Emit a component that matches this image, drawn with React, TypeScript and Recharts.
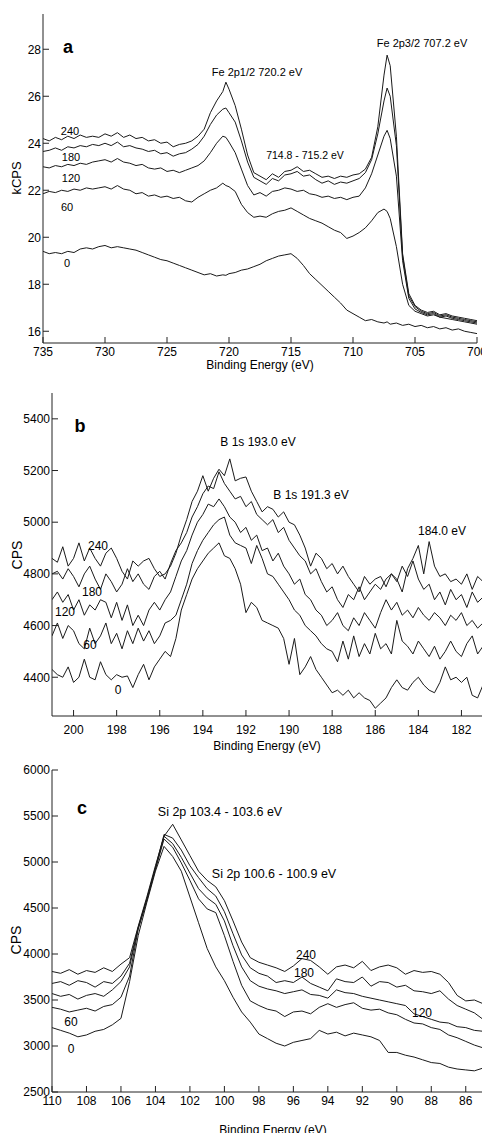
import React from 'react';
import { LineChart, Line, XAxis, YAxis } from 'recharts';

const FONT = "'Liberation Sans', Arial, Helvetica, sans-serif";
const INK = '#1a1a1a';

// ---------------- Panel a : Fe 2p ----------------
const feEnergy = [
  735, 734.5, 734, 733.5, 733, 732.5, 732, 731.5, 731, 730.5,
  730, 729.5, 729, 728.5, 728, 727.5, 727, 726.5, 726, 725.5,
  725, 724.5, 724, 723.5, 723, 722.5, 722, 721.5, 721, 720.5,
  720.25, 720, 719.5, 719, 718.5, 718, 717.5, 717, 716.5, 716,
  715.5, 715, 714.5, 714, 713.5, 713, 712.5, 712, 711.5, 711,
  710.5, 710, 709.5, 709, 708.5, 708, 707.5, 707.25, 707, 706.5,
  706, 705.5, 705, 704.5, 704, 703.5, 703, 702.5, 702, 701.5,
  701, 700.5, 700,
];
const fe240 = [
  24.2, 24.1, 24.25, 24.15, 24.3, 24.2, 24.35, 24.25, 24.3, 24.25,
  24.4, 24.3, 24.45, 24.25, 24.35, 24.2, 24.25, 24.1, 24.15, 24.0,
  24.05, 23.85, 23.95, 24.0, 24.1, 24.3, 24.6, 25.3, 25.8, 26.2,
  26.6, 26.3, 25.6, 24.6, 23.5, 22.75, 22.6, 22.45, 22.7, 22.55,
  22.8, 22.85, 23.0, 22.8, 22.85, 22.7, 22.55, 22.6, 22.5, 22.6,
  22.55, 22.65, 22.7, 22.9, 23.4, 24.7, 26.9, 27.75, 27.3, 24.3,
  19.3, 17.6, 17.1, 16.9, 16.8, 16.85, 16.7, 16.75, 16.65, 16.6,
  16.55, 16.5, 16.45,
];
const fe180 = [
  23.65, 23.7, 23.8, 23.7, 23.85, 23.8, 23.9, 23.85, 23.95, 23.9,
  24.0, 23.9, 24.05, 23.85, 23.9, 23.8, 23.75, 23.65, 23.7, 23.55,
  23.6, 23.45, 23.55, 23.6, 23.75, 23.95, 24.3, 24.8, 25.2, 25.45,
  25.5, 25.3, 24.9, 24.1, 23.2, 22.55, 22.4, 22.25, 22.5, 22.4,
  22.65, 22.7, 22.8, 22.6, 22.65, 22.45, 22.3, 22.4, 22.25, 22.35,
  22.3, 22.4, 22.5, 22.75, 23.3, 24.4, 25.8, 26.35, 26.0, 23.9,
  19.2, 17.5, 17.05, 16.85, 16.75, 16.8, 16.65, 16.7, 16.6, 16.55,
  16.5, 16.45, 16.4,
];
const fe120 = [
  23.0, 22.95, 23.05, 23.0, 23.1, 23.05, 23.15, 23.1, 23.2, 23.25,
  23.3, 23.2, 23.35, 23.2, 23.15, 23.05, 23.1, 22.95, 22.9, 22.95,
  22.8, 22.85, 22.75, 22.85, 22.95, 23.05, 23.25, 23.6, 24.0, 24.3,
  24.25, 24.05, 23.6, 22.9, 22.2, 21.8, 21.9, 21.75, 21.95, 22.0,
  22.1, 22.05, 21.95, 22.0, 21.85, 21.8, 21.7, 21.75, 21.65, 21.7,
  21.6, 21.7, 21.75, 22.1, 22.7, 23.5, 24.3, 24.55, 24.2, 22.6,
  19.0, 17.4, 16.95, 16.8, 16.7, 16.75, 16.6, 16.65, 16.55, 16.5,
  16.45, 16.4, 16.35,
];
const fe60 = [
  21.85, 21.95, 21.9, 22.0, 21.95, 22.05, 22.0, 22.1, 22.05, 22.1,
  22.15, 22.05, 22.2, 22.05, 22.0, 21.85, 21.9, 21.75, 21.8, 21.7,
  21.75, 21.65, 21.7, 21.55, 21.5, 21.7, 21.85, 22.0, 22.1, 22.3,
  22.2, 22.15, 21.95, 21.4, 21.05, 20.85, 20.9, 20.85, 21.0, 21.1,
  21.15, 21.25, 21.1, 20.95, 20.8, 20.7, 20.6, 20.45, 20.3, 20.2,
  19.95, 20.05, 20.2, 20.4, 20.7, 21.05, 21.2, 21.1, 20.8, 19.6,
  18.0, 17.1, 16.85, 16.75, 16.65, 16.7, 16.6, 16.55, 16.5, 16.45,
  16.4, 16.35, 16.3,
];
const fe0 = [
  19.4, 19.3, 19.35, 19.3, 19.4, 19.35, 19.5, 19.55, 19.5, 19.6,
  19.65, 19.55, 19.6, 19.55, 19.5, 19.45, 19.35, 19.25, 19.15, 19.05,
  19.0, 18.9, 18.8, 18.7, 18.6, 18.5, 18.4, 18.45, 18.35, 18.4,
  18.38, 18.45, 18.5, 18.6, 18.65, 18.75, 18.85, 19.0, 19.1, 19.2,
  19.25, 19.3, 19.1, 18.8, 18.45, 18.2, 17.95, 17.7, 17.45, 17.2,
  16.9, 16.75, 16.6, 16.45, 16.5, 16.4, 16.35, 16.4, 16.3, 16.35,
  16.25, 16.3, 16.2, 16.25, 16.15, 16.2, 16.1, 16.15, 16.05, 16.1,
  16.0, 15.95, 15.9,
];
const feTicksX = [735, 730, 725, 720, 715, 710, 705, 700];
const feTicksY = [16, 18, 20, 22, 24, 26, 28];

// ---------------- Panel b : B 1s ----------------
const bEnergy = [
  201, 200.75, 200.5, 200.25, 200, 199.75, 199.5, 199.25,
  199, 198.75, 198.5, 198.25, 198, 197.75, 197.5, 197.25,
  197, 196.75, 196.5, 196.25, 196, 195.75, 195.5, 195.25,
  195, 194.75, 194.5, 194.25, 194, 193.75, 193.5, 193.25,
  193, 192.75, 192.5, 192.25, 192, 191.75, 191.5, 191.25,
  191, 190.75, 190.5, 190.25, 190, 189.75, 189.5, 189.25,
  189, 188.75, 188.5, 188.25, 188, 187.75, 187.5, 187.25,
  187, 186.75, 186.5, 186.25, 186, 185.75, 185.5, 185.25,
  185, 184.75, 184.5, 184.25, 184, 183.75, 183.5, 183.25,
  183, 182.75, 182.5, 182.25, 182, 181.75, 181.5, 181.25,
  181,
];
const b240 = [
  4860, 4845, 4905, 4830, 4860, 4920, 4850, 4900,
  4860, 4830, 4880, 4900, 4860, 4810, 4780, 4850,
  4830, 4850, 4860, 4820, 4790, 4800, 4830, 4880,
  4950, 5010, 5080, 5120, 5180, 5120, 5170, 5205,
  5180, 5245, 5160, 5170, 5175, 5120, 5080, 5040,
  5060, 5050, 5020, 5040, 5000, 4990, 4950, 4900,
  4830, 4880, 4860, 4820, 4840, 4800, 4830, 4790,
  4760, 4730, 4790, 4760, 4780, 4790, 4750, 4800,
  4780, 4730, 4820, 4860, 4910, 4800, 4925, 4830,
  4790, 4800, 4770, 4780, 4760, 4800, 4740, 4790,
  4770,
];
const b180 = [
  4800, 4810, 4780, 4820, 4790, 4750, 4800, 4830,
  4780, 4740, 4800, 4770, 4730, 4760, 4820, 4770,
  4800, 4760, 4740, 4790, 4810, 4780, 4840, 4890,
  4920, 4960, 5020, 5060, 5110, 5140, 5130, 5195,
  5150, 5120, 5090, 5100, 5060, 5080, 5030, 5010,
  4990, 5010, 4960, 4980, 4930, 4900, 4870, 4850,
  4800, 4820, 4770, 4730, 4750, 4700, 4670, 4720,
  4700, 4750, 4700, 4730, 4760, 4740, 4780, 4800,
  4770, 4830, 4790, 4850, 4780, 4740, 4760, 4700,
  4730, 4680, 4740, 4700, 4720, 4670, 4730, 4690,
  4710,
];
const b120 = [
  4700, 4730, 4690, 4720, 4660, 4700, 4640, 4680,
  4660, 4700, 4690, 4630, 4690, 4620, 4680, 4600,
  4640, 4600, 4660, 4690, 4660, 4700, 4730, 4790,
  4850, 4890, 4950, 5000, 5030, 5070, 5060, 5090,
  5060, 5020, 5000, 4960, 4980, 4930, 4950, 4890,
  4900, 4850, 4880, 4830, 4800, 4760, 4780, 4720,
  4700, 4660, 4640, 4600, 4620, 4650, 4600, 4580,
  4630, 4600, 4650, 4620, 4590, 4650, 4700, 4660,
  4690, 4640, 4660, 4630, 4670, 4640, 4620, 4650,
  4630, 4600, 4640, 4620, 4650, 4600, 4620, 4590,
  4610,
];
const b60 = [
  4560, 4610, 4550, 4600, 4580, 4530, 4510, 4590,
  4530, 4560, 4610, 4530, 4570, 4510, 4580, 4530,
  4590, 4540, 4580, 4530, 4560, 4610, 4620, 4640,
  4700, 4760, 4840, 4890, 4930, 4960, 4990, 5010,
  5020, 4950, 4920, 4910, 4900, 4840, 4910, 4860,
  4800, 4790, 4760, 4730, 4700, 4660, 4640, 4600,
  4580, 4560, 4530, 4510, 4500, 4460, 4540, 4470,
  4560, 4480, 4530, 4490, 4570, 4510, 4530, 4490,
  4620, 4540, 4520, 4490, 4540, 4510, 4480, 4520,
  4470, 4500, 4540, 4500, 4480, 4530, 4560, 4490,
  4520,
];
const b0 = [
  4430, 4410, 4400, 4440, 4380, 4400, 4470, 4400,
  4390, 4460, 4410, 4390, 4410, 4400, 4405, 4360,
  4410, 4450, 4390, 4440, 4470, 4500, 4480, 4550,
  4660, 4720, 4780, 4820, 4850, 4880, 4900, 4920,
  4870, 4860, 4820, 4760, 4650, 4690, 4670, 4620,
  4610, 4600, 4590, 4550, 4450, 4550, 4410, 4440,
  4480, 4430, 4400, 4370, 4340, 4350, 4330, 4350,
  4320, 4340, 4320, 4310, 4280, 4300, 4320, 4360,
  4390, 4360, 4350, 4380, 4400, 4370, 4350, 4340,
  4380, 4440, 4390, 4400, 4380, 4400, 4330, 4320,
  4370,
];
const bTicksX = [200, 198, 196, 194, 192, 190, 188, 186, 184, 182];
const bTicksY = [4400, 4600, 4800, 5000, 5200, 5400];

// ---------------- Panel c : Si 2p ----------------
const cEnergy = [
  110, 109.5, 109, 108.5, 108, 107.5, 107, 106.5, 106, 105.5,
  105, 104.5, 104, 103.5, 103, 102.5, 102, 101.5, 101, 100.5,
  100, 99.5, 99, 98.5, 98, 97.5, 97, 96.5, 96, 95.5,
  95, 94.5, 94, 93.5, 93, 92.5, 92, 91.5, 91, 90.5,
  90, 89.5, 89, 88.5, 88, 87.5, 87, 86.5, 86, 85.5,
  85,
];
const c240 = [
  3810, 3790, 3830, 3780, 3820, 3800, 3850, 3810, 3890, 3960,
  4300, 4620, 4960, 5280, 5410, 5240, 5070, 4900, 4800, 4730,
  4580, 4360, 4130, 3960, 3910, 3880, 3850, 3810, 3870, 3950,
  3930, 3860, 3780, 3860, 3880, 3850, 3920, 3820, 3860, 3880,
  3850, 3780, 3820, 3800, 3810, 3780, 3690, 3550, 3490, 3500,
  3460,
];
const c180 = [
  3680, 3700, 3660, 3710, 3690, 3640, 3700, 3680, 3760, 3900,
  4290, 4600, 4940, 5300, 5260, 5130, 4960, 4830, 4710, 4630,
  4460, 4220, 3990, 3850, 3790, 3760, 3690, 3710, 3690, 3750,
  3680, 3640, 3600, 3730, 3700, 3690, 3750, 3650, 3700, 3690,
  3640, 3660, 3600, 3590, 3570, 3600, 3510, 3440, 3400, 3360,
  3290,
];
const c120 = [
  3570, 3540, 3560, 3510, 3550, 3570, 3540, 3610, 3700, 3860,
  4280, 4590, 4930, 5280, 5200, 5050, 4880, 4710, 4610, 4540,
  4360, 4090, 3860, 3710, 3650, 3620, 3600, 3570, 3590, 3610,
  3560, 3550, 3520, 3610, 3580, 3570, 3540, 3520, 3500, 3480,
  3460, 3440, 3350, 3320, 3290, 3260, 3250, 3210, 3200, 3170,
  3160,
];
const c60 = [
  3420, 3400, 3370, 3390, 3410, 3380, 3430, 3450, 3530, 3760,
  4270, 4580, 4920, 5250, 5160, 4990, 4800, 4600, 4490, 4450,
  4200, 3920, 3660, 3490, 3440, 3400, 3380, 3320, 3370, 3380,
  3350, 3420, 3460, 3420, 3450, 3470, 3410, 3390, 3400, 3360,
  3340, 3290, 3250, 3240, 3200, 3180, 3120, 3090, 3050, 3010,
  2980,
];
const c0 = [
  3200, 3170, 3140, 3100, 3120, 3160, 3180, 3230, 3300, 3700,
  4200, 4560, 4900, 5170, 5060, 4900, 4620, 4340, 4060, 3860,
  3710, 3530, 3370, 3260, 3130, 3080, 3030, 3000, 3040, 3060,
  3080, 3170, 3130, 3150, 3110, 3140, 3120, 3100, 3060, 2930,
  2930, 2900, 2880, 2850, 2820, 2810, 2770, 2750, 2740, 2730,
  2760,
];
const cTicksX = [110, 108, 106, 104, 102, 100, 98, 96, 94, 92, 90, 88, 86];
const cTicksY = [2500, 3000, 3500, 4000, 4500, 5000, 5500, 6000];

const SERIES_KEYS = ['s240', 's180', 's120', 's60', 's0'];

function buildRows(energy: number[], series: number[][]) {
  return energy.map((e, i) => {
    const row: Record<string, number> = { e };
    series.forEach((s, k) => {
      row[SERIES_KEYS[k]] = s[i];
    });
    return row;
  });
}

const feRows = buildRows(feEnergy, [fe240, fe180, fe120, fe60, fe0]);
const bRows = buildRows(bEnergy, [b240, b180, b120, b60, b0]);
const cRows = buildRows(cEnergy, [c240, c180, c120, c60, c0]);

type PanelProps = {
  top: number;
  width: number;
  height: number;
  margin: { top: number; right: number; bottom: number; left: number };
  data: Record<string, number>[];
  xDomain: [number, number];
  xTicks: number[];
  yDomain: [number, number];
  yTicks: number[];
  yWidth: number;
  xHeight: number;
  xTickMargin: number;
};

const tickStyle = { fontSize: 12, fill: '#000', fontFamily: FONT };

function Panel(p: PanelProps) {
  return (
    <div style={{ position: 'absolute', left: 0, top: p.top }}>
      <LineChart width={p.width} height={p.height} data={p.data} margin={p.margin}>
        <XAxis
          xAxisId="b"
          type="number"
          dataKey="e"
          domain={p.xDomain}
          reversed
          ticks={p.xTicks}
          interval={0}
          allowDataOverflow
          height={p.xHeight}
          tickSize={-6}
          tickMargin={p.xTickMargin}
          tick={tickStyle}
          stroke="#222"
        />
        <XAxis
          xAxisId="t"
          orientation="top"
          type="number"
          dataKey="e"
          domain={p.xDomain}
          reversed
          ticks={p.xTicks}
          interval={0}
          allowDataOverflow
          height={0}
          tickSize={-6}
          tick={false}
          stroke="#222"
        />
        <YAxis
          yAxisId="l"
          type="number"
          domain={p.yDomain}
          ticks={p.yTicks}
          interval={0}
          allowDataOverflow
          width={p.yWidth}
          tickSize={-6}
          tickMargin={8}
          tick={tickStyle}
          stroke="#222"
        />
        <YAxis
          yAxisId="r"
          orientation="right"
          type="number"
          domain={p.yDomain}
          ticks={p.yTicks}
          interval={0}
          allowDataOverflow
          width={0}
          tickSize={-6}
          tick={false}
          stroke="#222"
        />
        {SERIES_KEYS.map((k) => (
          <Line
            key={k}
            xAxisId="b"
            yAxisId="l"
            type="linear"
            dataKey={k}
            stroke={INK}
            strokeWidth={1}
            dot={false}
            isAnimationActive={false}
          />
        ))}
      </LineChart>
    </div>
  );
}

function Txt({
  x,
  y,
  size = 12,
  bold = false,
  rotate = false,
  children,
}: {
  x: number;
  y: number;
  size?: number;
  bold?: boolean;
  rotate?: boolean;
  children: React.ReactNode;
}) {
  return (
    <div
      style={{
        position: 'absolute',
        left: x,
        top: y,
        fontSize: size,
        lineHeight: 1,
        fontWeight: bold ? 700 : 400,
        whiteSpace: 'nowrap',
        color: '#000',
        transform: `translate(-50%, -50%)${rotate ? ' rotate(-90deg)' : ''}`,
      }}
    >
      {children}
    </div>
  );
}

export default function App() {
  return (
    <div
      style={{
        position: 'absolute',
        left: 0,
        top: 0,
        width: 482,
        height: 1133,
        overflow: 'hidden',
        background: '#fff',
        fontFamily: FONT,
      }}
    >
      {/* Panel a */}
      <Panel
        top={0}
        width={482}
        height={380}
        margin={{ top: 14, right: 5, bottom: 0, left: 0 }}
        data={feRows}
        xDomain={[700, 735]}
        xTicks={feTicksX}
        yDomain={[15.5, 29.5]}
        yTicks={feTicksY}
        yWidth={43}
        xHeight={37}
        xTickMargin={10}
      />
      <Txt x={68} y={47} size={18} bold>a</Txt>
      <Txt x={257} y={72} size={11}>Fe 2p1/2 720.2 eV</Txt>
      <Txt x={422} y={43} size={11}>Fe 2p3/2 707.2 eV</Txt>
      <Txt x={305} y={155} size={10.5}>714.8 - 715.2 eV</Txt>
      <Txt x={70} y={131} size={11}>240</Txt>
      <Txt x={71} y={157} size={11}>180</Txt>
      <Txt x={71} y={178} size={11}>120</Txt>
      <Txt x={67} y={207} size={11}>60</Txt>
      <Txt x={67} y={263} size={11}>0</Txt>
      <Txt x={16} y={178} size={13} rotate>kCPS</Txt>
      <Txt x={260} y={365} size={12}>Binding Energy (eV)</Txt>

      {/* Panel b */}
      <Panel
        top={380}
        width={490}
        height={380}
        margin={{ top: 13, right: 7, bottom: 0, left: 0 }}
        data={bRows}
        xDomain={[181, 201]}
        xTicks={bTicksX}
        yDomain={[4250, 5500]}
        yTicks={bTicksY}
        yWidth={52}
        xHeight={44}
        xTickMargin={15}
      />
      <Txt x={80} y={426} size={18} bold>b</Txt>
      <Txt x={258} y={442} size={12}>B 1s 193.0 eV</Txt>
      <Txt x={311} y={495} size={12}>B 1s 191.3 eV</Txt>
      <Txt x={442} y={531} size={12}>184.0 eV</Txt>
      <Txt x={98} y={546} size={12}>240</Txt>
      <Txt x={92} y={592} size={12}>180</Txt>
      <Txt x={65} y={612} size={12}>120</Txt>
      <Txt x={90} y={645} size={12}>60</Txt>
      <Txt x={118} y={690} size={12}>0</Txt>
      <Txt x={17} y={555} size={14} rotate>CPS</Txt>
      <Txt x={267} y={746} size={12}>Binding Energy (eV)</Txt>

      {/* Panel c */}
      <Panel
        top={760}
        width={490}
        height={373}
        margin={{ top: 10, right: 7, bottom: 0, left: 0 }}
        data={cRows}
        xDomain={[85, 110]}
        xTicks={cTicksX}
        yDomain={[2500, 6000]}
        yTicks={cTicksY}
        yWidth={52}
        xHeight={41}
        xTickMargin={10}
      />
      <Txt x={82} y={808} size={18} bold>c</Txt>
      <Txt x={220} y={812} size={12.5}>Si 2p 103.4 - 103.6 eV</Txt>
      <Txt x={274} y={874} size={12.5}>Si 2p 100.6 - 100.9 eV</Txt>
      <Txt x={306} y={955} size={12}>240</Txt>
      <Txt x={304} y={973} size={12}>180</Txt>
      <Txt x={422} y={1013} size={12}>120</Txt>
      <Txt x={71} y={1022} size={12}>60</Txt>
      <Txt x={71} y={1049} size={12}>0</Txt>
      <Txt x={16} y={940} size={14} rotate>CPS</Txt>
      <Txt x={273} y={1130} size={12}>Binding Energy (eV)</Txt>
    </div>
  );
}
